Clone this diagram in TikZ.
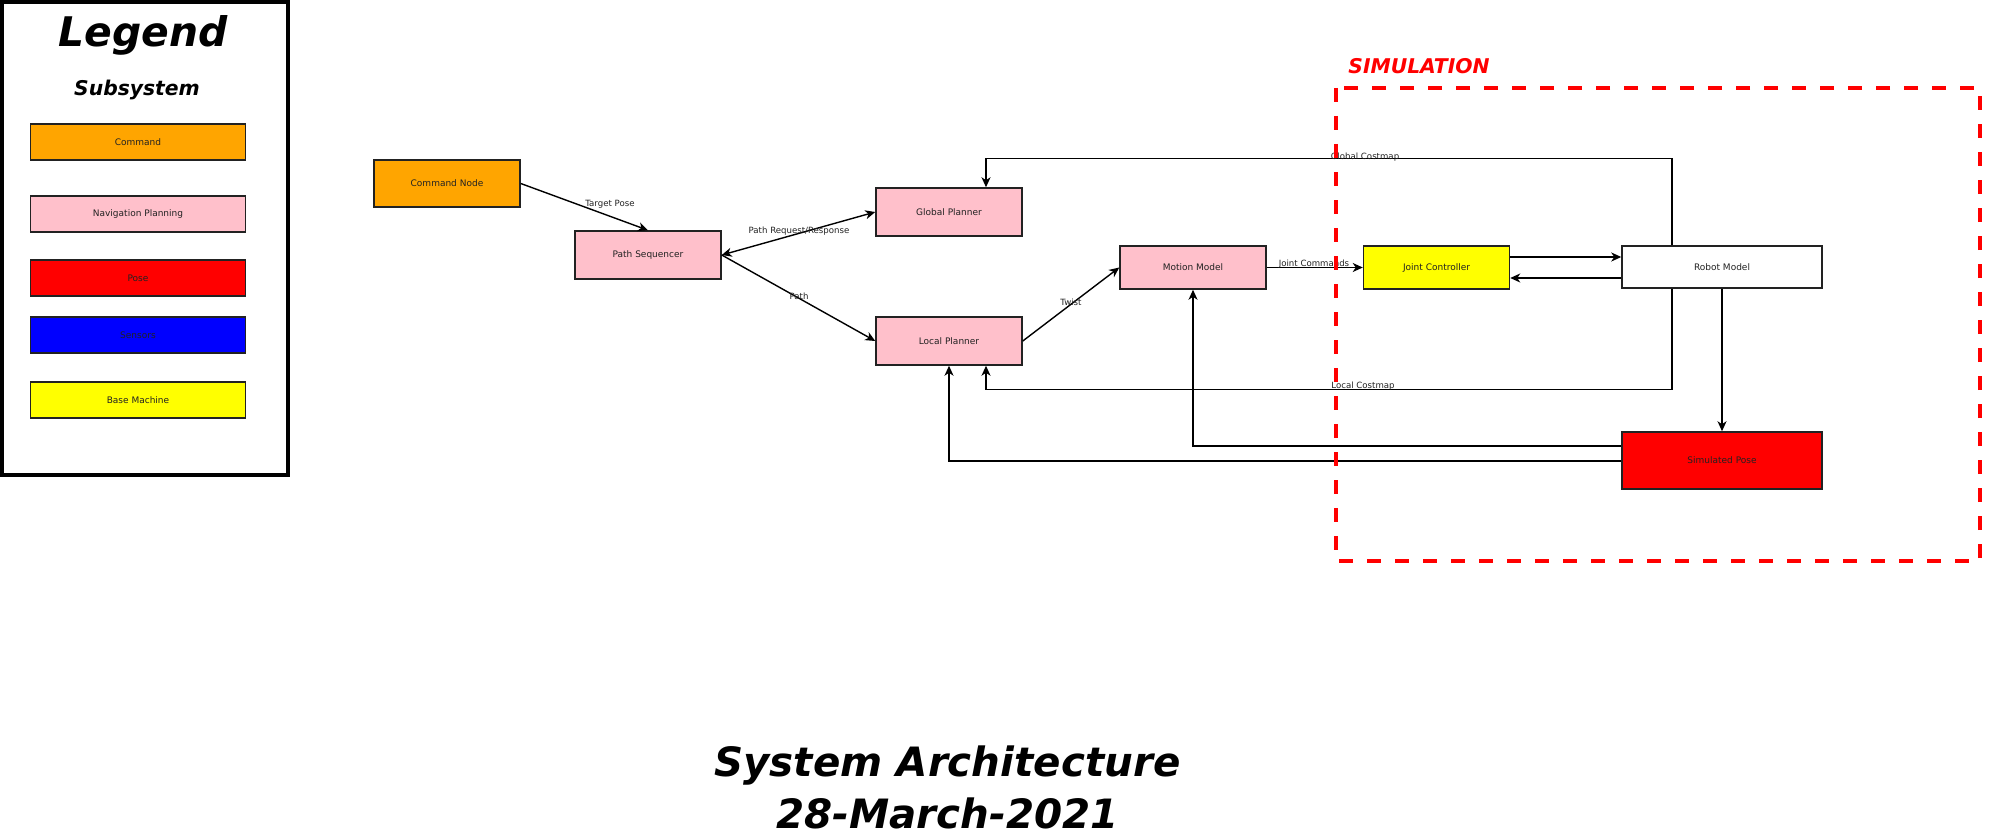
\documentclass[tikz,border=0pt]{standalone}
\usepackage{fontspec}
\setmainfont{DejaVu Sans}
\usetikzlibrary{arrows.meta,calc}
\definecolor{cmdorange}{HTML}{FFA500}
\definecolor{navpink}{HTML}{FFC0CB}
\definecolor{posered}{HTML}{FF0000}
\definecolor{sensblue}{HTML}{0000FF}
\definecolor{baseyellow}{HTML}{FFFF00}
\definecolor{edgegray}{HTML}{222222}
\tikzset{
  nodebox/.style={draw=edgegray, line width=1.5pt, minimum width=146pt, inner sep=0pt,
    font=\fontsize{9}{10}\selectfont, text=edgegray},
  legbox/.style={nodebox, minimum width=215pt, minimum height=36pt},
  lbl/.style={font=\fontsize{8.6}{10}\selectfont, text=edgegray, inner sep=0pt},
  conn/.style={draw=black, line width=1.4pt, -{Stealth[length=10pt,width=9pt,inset=3pt]}},
  biconn/.style={draw=black, line width=1.4pt, {Stealth[length=10pt,width=9pt,inset=3pt]}-{Stealth[length=10pt,width=9pt,inset=3pt]}},
  bigtitle/.style={font=\fontsize{40.4}{42}\selectfont\bfseries\itshape, inner sep=0pt, anchor=base}
}
\begin{document}
\begin{tikzpicture}[x=1pt,y=-1pt]
\useasboundingbox (0,0) rectangle (1999,840);
\fill[white] (0,0) rectangle (1999,840);

% Legend
\node[draw=black, line width=4pt, minimum width=286pt, minimum height=473pt, inner sep=0pt] (legend) at (145,238.5) {};
\node[font=\fontsize{40.8}{42}\selectfont\bfseries\itshape, inner sep=0pt, anchor=base] (legtitle) at (143,47) {Legend};
\node[font=\fontsize{20.3}{21}\selectfont\bfseries\itshape, inner sep=0pt, anchor=base] (legsub) at (137,96) {Subsystem};
\node[legbox, fill=cmdorange] (lcmd) at (138,142) {Command};
\node[legbox, fill=navpink] (lnav) at (138,214) {Navigation Planning};
\node[legbox, fill=posered] (lpose) at (138,278) {Pose};
\node[legbox, fill=sensblue] (lsens) at (138,335) {Sensors};
\node[legbox, fill=baseyellow] (lbase) at (138,400) {Base Machine};

% Main nodes
\node[nodebox, fill=cmdorange, minimum height=47pt] (cmd) at (447,183.5) {Command Node};
\node[nodebox, fill=navpink, minimum height=48pt] (pseq) at (648,255) {Path Sequencer};
\node[nodebox, fill=navpink, minimum height=48pt] (gp) at (949,212) {Global Planner};
\node[nodebox, fill=navpink, minimum height=48pt] (lp) at (949,341) {Local Planner};
\node[nodebox, fill=navpink, minimum height=43pt] (mm) at (1193,267.5) {Motion Model};
\node[nodebox, fill=baseyellow, minimum height=43pt] (jc) at (1436.5,267.5) {Joint Controller};
\node[nodebox, fill=white, minimum width=200pt, minimum height=42pt] (rm) at (1722,267) {Robot Model};
\node[nodebox, fill=posered, minimum width=200pt, minimum height=57pt] (sp) at (1722,460.5) {Simulated Pose};

% Connectors
\draw[conn] (cmd.east) -- (pseq.north);
\draw[biconn] (pseq.east) -- (gp.west);
\draw[conn] (pseq.east) -- (lp.west);
\draw[conn] (lp.east) -- (mm.west);
\draw[conn] (mm.east) -- (jc.west);
\draw[conn] ([yshift=10.5pt]jc.east) -- ([yshift=10.5pt]jc.east -| rm.west);
\draw[conn] ([yshift=-11pt]rm.west) -- ([yshift=-11pt]rm.west -| jc.east);
\draw[conn] ([xshift=-50pt]rm.north) -- ++(0,-87) -| ([xshift=37pt]gp.north);
\draw[conn] ([xshift=-50pt]rm.south) -- ++(0,101) -| ([xshift=37pt]lp.south);
\draw[conn] (rm.south) -- (sp.north);
\draw[conn] ([yshift=14.5pt]sp.west) -| (mm.south);
\draw[conn] ([yshift=-0.5pt]sp.west) -| (lp.south);

% Connector labels
\node[lbl] (ltp) at (610,204) {Target Pose};
\node[lbl] (lprr) at (799,231) {Path Request/Response};
\node[lbl] (lpath) at (799,296) {Path};
\node[lbl] (ltw) at (1071,302) {Twist};
\node[lbl] (ljc) at (1314,264) {Joint Commands};
\node[lbl] (lgc) at (1365,157) {Global Costmap};
\node[lbl] (llc) at (1363,386) {Local Costmap};

% Simulation region
\draw[posered, line width=4pt, dash pattern=on 14pt off 14pt] (1336,88) rectangle (1980,561);
\node[font=\fontsize{20.3}{21}\selectfont\bfseries\itshape, text=posered, inner sep=0pt, anchor=base] (simlbl) at (1419,74) {SIMULATION};

% Title
\node[bigtitle] (title1) at (947.5,776) {System Architecture};
\node[bigtitle] (title2) at (947.5,828) {28-March-2021};
\end{tikzpicture}
\end{document}
